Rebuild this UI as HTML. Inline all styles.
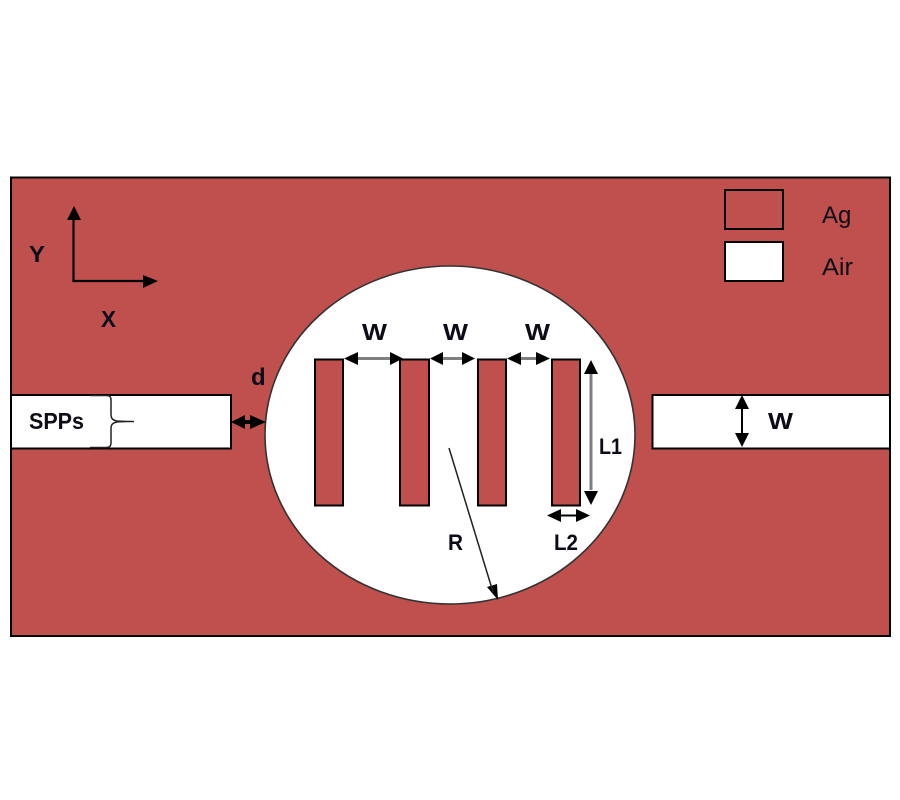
<!DOCTYPE html>
<html>
<head>
<meta charset="utf-8">
<style>
html,body{margin:0;padding:0;background:#fff;width:900px;height:800px;overflow:hidden}
svg{display:block}
text{font-family:"Liberation Sans",sans-serif;fill:#0c0c18}
</style>
</head>
<body>
<svg width="900" height="800" viewBox="0 0 900 800" xmlns="http://www.w3.org/2000/svg">
<rect width="900" height="800" fill="#fff"/>
<rect x="11" y="177.500" width="879" height="458.500" fill="#c0504d" stroke="#000" stroke-width="2"/>
<ellipse cx="450" cy="435" rx="185" ry="169" fill="#fff" stroke="#333" stroke-width="1.600"/>
<rect x="11" y="395" width="220" height="53.500" fill="#fff" stroke="#000" stroke-width="2"/>
<rect x="652.500" y="395" width="237.500" height="53.500" fill="#fff" stroke="#000" stroke-width="2"/>
<g fill="#c0504d" stroke="#000" stroke-width="2">
<rect x="315" y="359.500" width="28" height="146"/>
<rect x="400" y="359.500" width="29" height="146"/>
<rect x="478" y="359.500" width="28" height="146"/>
<rect x="552" y="359.500" width="28" height="146"/>
<rect x="725" y="190" width="58" height="39"/>
</g>
<rect x="725" y="242" width="58" height="39" fill="#fff" stroke="#000" stroke-width="2"/>

<path d="M73.500 215V281H150" fill="none" stroke="#000" stroke-width="2.200"/>
<path d="M74 206L81 220H67Z M158 281L143 275V288Z" fill="#000"/>

<g stroke="#7f7f7f" stroke-width="3" fill="none">
<path d="M355 358.500H392M435 358.500H465M515 358.500H540M591 372V490"/>
</g>
<g fill="#000">
<path d="M344 358.500L358 352V365Z M403 358.500L390 352V365Z"/>
<path d="M430 358.500L443 352V365Z M475 358.500L462 352V365Z"/>
<path d="M507 358.500L521 352V365Z M550 358.500L536 352V365Z"/>
<path d="M591 360L598 374H584Z M591 505L584 491H598Z"/>
<path d="M547 515.500L561 509V522Z M590 515.500L576 509V522Z"/>
<path d="M231 422L245 415V429Z M266 422L250 415V429Z M245 420H250V424H245Z"/>
<path d="M742 395L749 409H735Z M742 447L735 433H749Z"/>
<path d="M498 600L487 587L497 584Z"/>
</g>
<path d="M555 515.500H582M742 405V437" stroke="#000" stroke-width="2" fill="none"/>
<path d="M449 448L493 592" stroke="#222" stroke-width="1.500" fill="none"/>

<path d="M90 395.500H106C110 395.500 111 397 111 400V414C111 418 112 420 117 421C122 421.500 128 421.500 134 421.500C128 421.500 122 421.500 117 422C112 423 111 425 111 429V442C111 446 110 447.500 106 447.500H90" fill="none" stroke="#222" stroke-width="1.500"/>

<g font-weight="700" font-size="23">
<text x="29" y="262" textLength="16" lengthAdjust="spacingAndGlyphs">Y</text>
<text x="101" y="327" textLength="15" lengthAdjust="spacingAndGlyphs">X</text>
<text x="251" y="385" font-size="24">d</text>
<text x="29" y="429" textLength="55" lengthAdjust="spacingAndGlyphs">SPPs</text>
<text x="362" y="340" textLength="25" lengthAdjust="spacingAndGlyphs">W</text>
<text x="443" y="340" textLength="25" lengthAdjust="spacingAndGlyphs">W</text>
<text x="525" y="340" textLength="25" lengthAdjust="spacingAndGlyphs">W</text>
<text x="768" y="429" textLength="25" lengthAdjust="spacingAndGlyphs">W</text>
<text x="599" y="454" font-size="22" textLength="23" lengthAdjust="spacingAndGlyphs">L1</text>
<text x="554" y="550" font-size="22" textLength="24" lengthAdjust="spacingAndGlyphs">L2</text>
<text x="448" y="550" font-size="22" textLength="15" lengthAdjust="spacingAndGlyphs">R</text>
</g>
<text x="822" y="223" font-size="24">Ag</text>
<text x="822" y="275" font-size="24" textLength="31" lengthAdjust="spacingAndGlyphs">Air</text>
</svg>
</body>
</html>
